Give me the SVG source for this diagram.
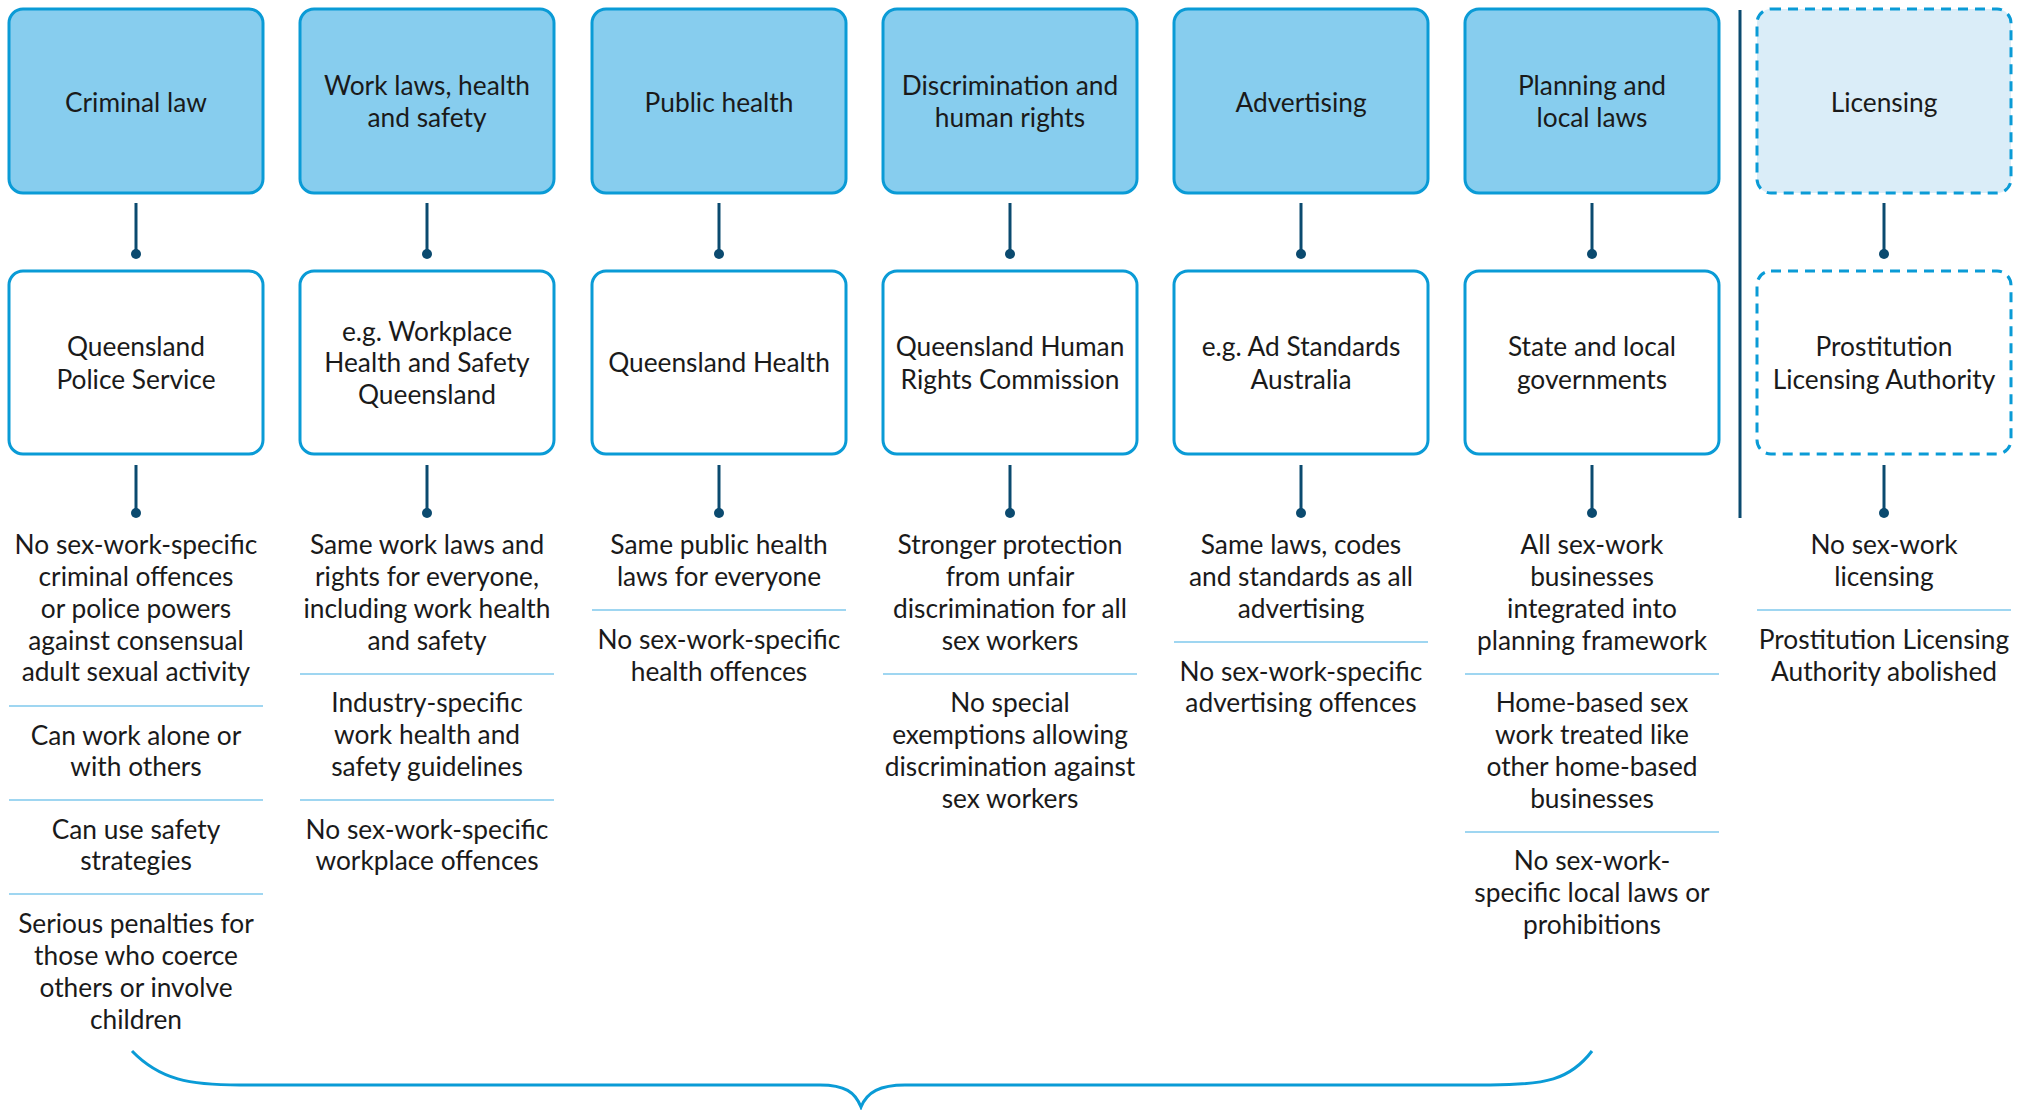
<svg xmlns="http://www.w3.org/2000/svg" width="2030" height="1110" viewBox="0 0 2030 1110">
<style>
.top{fill:#87cdee;stroke:#0a9bd6;stroke-width:3}
.mid{fill:#ffffff;stroke:#0a9bd6;stroke-width:3}
.topd{fill:#daedf8;stroke:#0a9bd6;stroke-width:3;stroke-dasharray:10 7}
.midd{fill:#ffffff;stroke:#0a9bd6;stroke-width:3;stroke-dasharray:10 7}
text{font-family:Lato,"Open Sans",sans-serif;font-size:26.3px;fill:#1a1a1a;text-anchor:middle}
.sep{stroke:#9fd6f1;stroke-width:2}
.con{stroke:#0b4a6f;stroke-width:3}
.dot{fill:#0b4a6f}
.brace{fill:none;stroke:#0a9bd6;stroke-width:3}
</style>
<g id="connectors">
<line class="con" x1="136" y1="203" x2="136" y2="254"/><circle class="dot" cx="136" cy="254" r="5"/>
<line class="con" x1="136" y1="465" x2="136" y2="513"/><circle class="dot" cx="136" cy="513" r="5"/>
<line class="con" x1="427" y1="203" x2="427" y2="254"/><circle class="dot" cx="427" cy="254" r="5"/>
<line class="con" x1="427" y1="465" x2="427" y2="513"/><circle class="dot" cx="427" cy="513" r="5"/>
<line class="con" x1="719" y1="203" x2="719" y2="254"/><circle class="dot" cx="719" cy="254" r="5"/>
<line class="con" x1="719" y1="465" x2="719" y2="513"/><circle class="dot" cx="719" cy="513" r="5"/>
<line class="con" x1="1010" y1="203" x2="1010" y2="254"/><circle class="dot" cx="1010" cy="254" r="5"/>
<line class="con" x1="1010" y1="465" x2="1010" y2="513"/><circle class="dot" cx="1010" cy="513" r="5"/>
<line class="con" x1="1301" y1="203" x2="1301" y2="254"/><circle class="dot" cx="1301" cy="254" r="5"/>
<line class="con" x1="1301" y1="465" x2="1301" y2="513"/><circle class="dot" cx="1301" cy="513" r="5"/>
<line class="con" x1="1592" y1="203" x2="1592" y2="254"/><circle class="dot" cx="1592" cy="254" r="5"/>
<line class="con" x1="1592" y1="465" x2="1592" y2="513"/><circle class="dot" cx="1592" cy="513" r="5"/>
<line class="con" x1="1884" y1="203" x2="1884" y2="254"/><circle class="dot" cx="1884" cy="254" r="5"/>
<line class="con" x1="1884" y1="465" x2="1884" y2="513"/><circle class="dot" cx="1884" cy="513" r="5"/>
<line class="con" x1="1740" y1="10" x2="1740" y2="518"/>
<path class="brace" d="M132 1051 C160 1080 190 1085 240 1085 L820 1085 C845 1085 855 1092 861 1107 C867 1092 880 1085 905 1085 L1490 1085 C1545 1085 1570 1080 1592 1051"/>
</g>
<g id="col-criminal">
<rect class="top" x="9" y="9" width="254" height="184" rx="14"/>
<text x="136" y="112">Criminal law</text>
<rect class="mid" x="9" y="271" width="254" height="183" rx="14"/>
<text x="136" y="356">Queensland</text><text x="136" y="389">Police Service</text>
<text x="136" y="554">No sex-work-specific</text><text x="136" y="586">criminal offences</text><text x="136" y="618">or police powers</text><text x="136" y="650">against consensual</text><text x="136" y="681">adult sexual activity</text>
<line class="sep" x1="9" y1="706" x2="263" y2="706"/>
<text x="136" y="745">Can work alone or</text><text x="136" y="776">with others</text>
<line class="sep" x1="9" y1="800" x2="263" y2="800"/>
<text x="136" y="839">Can use safety</text><text x="136" y="870">strategies</text>
<line class="sep" x1="9" y1="894" x2="263" y2="894"/>
<text x="136" y="933">Serious penalties for</text><text x="136" y="965">those who coerce</text><text x="136" y="997">others or involve</text><text x="136" y="1029">children</text>
</g>
<g id="col-work">
<rect class="top" x="300" y="9" width="254" height="184" rx="14"/>
<text x="427" y="95">Work laws, health</text><text x="427" y="127">and safety</text>
<rect class="mid" x="300" y="271" width="254" height="183" rx="14"/>
<text x="427" y="341">e.g. Workplace</text><text x="427" y="372">Health and Safety</text><text x="427" y="404">Queensland</text>
<text x="427" y="554">Same work laws and</text><text x="427" y="586">rights for everyone,</text><text x="427" y="618">including work health</text><text x="427" y="650">and safety</text>
<line class="sep" x1="300" y1="674" x2="554" y2="674"/>
<text x="427" y="712">Industry-specific</text><text x="427" y="744">work health and</text><text x="427" y="776">safety guidelines</text>
<line class="sep" x1="300" y1="800" x2="554" y2="800"/>
<text x="427" y="839">No sex-work-specific</text><text x="427" y="870">workplace offences</text>
</g>
<g id="col-health">
<rect class="top" x="592" y="9" width="254" height="184" rx="14"/>
<text x="719" y="112">Public health</text>
<rect class="mid" x="592" y="271" width="254" height="183" rx="14"/>
<text x="719" y="372">Queensland Health</text>
<text x="719" y="554">Same public health</text><text x="719" y="586">laws for everyone</text>
<line class="sep" x1="592" y1="610" x2="846" y2="610"/>
<text x="719" y="649">No sex-work-specific</text><text x="719" y="681">health offences</text>
</g>
<g id="col-discrimination">
<rect class="top" x="883" y="9" width="254" height="184" rx="14"/>
<text x="1010" y="95">Discrimination and</text><text x="1010" y="127">human rights</text>
<rect class="mid" x="883" y="271" width="254" height="183" rx="14"/>
<text x="1010" y="356">Queensland Human</text><text x="1010" y="389">Rights Commission</text>
<text x="1010" y="554">Stronger protection</text><text x="1010" y="586">from unfair</text><text x="1010" y="618">discrimination for all</text><text x="1010" y="650">sex workers</text>
<line class="sep" x1="883" y1="674" x2="1137" y2="674"/>
<text x="1010" y="712">No special</text><text x="1010" y="744">exemptions allowing</text><text x="1010" y="776">discrimination against</text><text x="1010" y="808">sex workers</text>
</g>
<g id="col-advertising">
<rect class="top" x="1174" y="9" width="254" height="184" rx="14"/>
<text x="1301" y="112">Advertising</text>
<rect class="mid" x="1174" y="271" width="254" height="183" rx="14"/>
<text x="1301" y="356">e.g. Ad Standards</text><text x="1301" y="389">Australia</text>
<text x="1301" y="554">Same laws, codes</text><text x="1301" y="586">and standards as all</text><text x="1301" y="618">advertising</text>
<line class="sep" x1="1174" y1="642" x2="1428" y2="642"/>
<text x="1301" y="681">No sex-work-specific</text><text x="1301" y="712">advertising offences</text>
</g>
<g id="col-planning">
<rect class="top" x="1465" y="9" width="254" height="184" rx="14"/>
<text x="1592" y="95">Planning and</text><text x="1592" y="127">local laws</text>
<rect class="mid" x="1465" y="271" width="254" height="183" rx="14"/>
<text x="1592" y="356">State and local</text><text x="1592" y="389">governments</text>
<text x="1592" y="554">All sex-work</text><text x="1592" y="586">businesses</text><text x="1592" y="618">integrated into</text><text x="1592" y="650">planning framework</text>
<line class="sep" x1="1465" y1="674" x2="1719" y2="674"/>
<text x="1592" y="712">Home-based sex</text><text x="1592" y="744">work treated like</text><text x="1592" y="776">other home-based</text><text x="1592" y="808">businesses</text>
<line class="sep" x1="1465" y1="832" x2="1719" y2="832"/>
<text x="1592" y="870">No sex-work-</text><text x="1592" y="902">specific local laws or</text><text x="1592" y="934">prohibitions</text>
</g>
<g id="col-licensing">
<rect class="topd" x="1757" y="9" width="254" height="184" rx="14"/>
<text x="1884" y="112">Licensing</text>
<rect class="midd" x="1757" y="271" width="254" height="183" rx="14"/>
<text x="1884" y="356">Prostitution</text><text x="1884" y="389">Licensing Authority</text>
<text x="1884" y="554">No sex-work</text><text x="1884" y="586">licensing</text>
<line class="sep" x1="1757" y1="610" x2="2011" y2="610"/>
<text x="1884" y="649">Prostitution Licensing</text><text x="1884" y="681">Authority abolished</text>
</g>
</svg>
